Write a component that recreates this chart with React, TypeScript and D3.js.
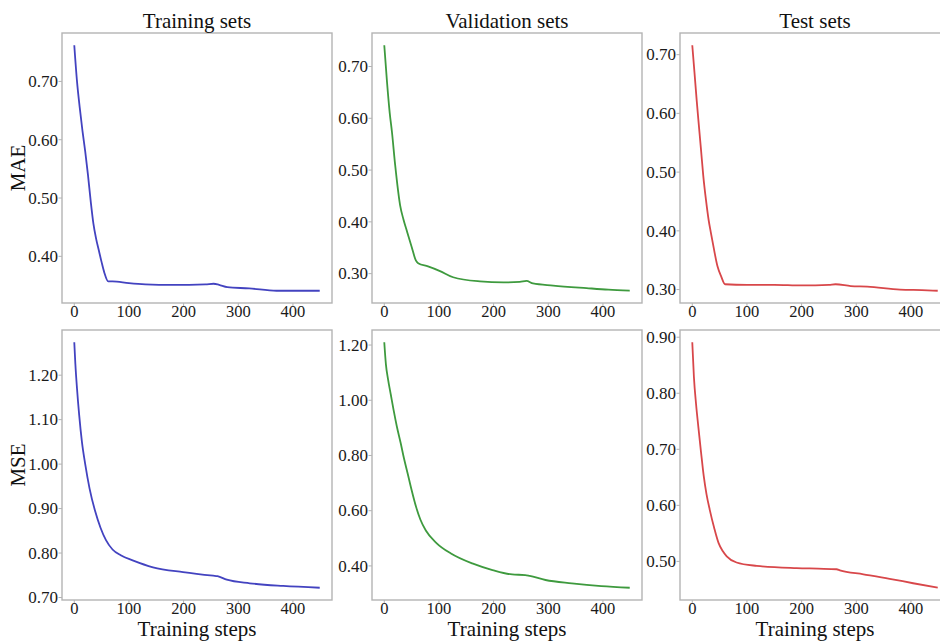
import React from 'react';
import * as d3 from 'd3';

const maeTrainSteps = [0, 5, 10, 15, 20, 25, 30, 35, 40, 45, 50, 55, 62, 70, 100, 130, 180, 240, 255, 265, 280, 320, 370, 410, 449];
const maeTrain = [0.762, 0.70, 0.655, 0.615, 0.58, 0.54, 0.495, 0.456, 0.43, 0.41, 0.39, 0.372, 0.357, 0.357, 0.354, 0.352, 0.351, 0.352, 0.353, 0.351, 0.347, 0.345, 0.341, 0.341, 0.341];

const maeValSteps = [0, 5, 10, 14, 20, 29, 35, 42, 50, 58, 62, 80, 102, 126, 175, 218, 248, 260, 272, 309, 370, 410, 449];
const maeVal = [0.741, 0.67, 0.61, 0.574, 0.509, 0.432, 0.405, 0.38, 0.352, 0.325, 0.32, 0.314, 0.305, 0.293, 0.285, 0.283, 0.284, 0.286, 0.281, 0.277, 0.272, 0.269, 0.267];

const maeTestSteps = [0, 4, 8, 12, 16, 20, 25, 30, 34, 40, 46, 53, 60, 100, 150, 200, 250, 262, 290, 320, 380, 420, 449];
const maeTest = [0.716, 0.67, 0.623, 0.58, 0.538, 0.495, 0.453, 0.418, 0.397, 0.367, 0.34, 0.322, 0.309, 0.308, 0.308, 0.307, 0.308, 0.309, 0.306, 0.305, 0.300, 0.299, 0.298];

const mseTrainSteps = [0, 2, 5, 9, 14, 20, 28, 38, 48, 58, 70, 85, 108, 144, 199, 254, 262, 279, 321, 382, 449];
const mseTrain = [1.274, 1.225, 1.17, 1.11, 1.05, 1.0, 0.945, 0.895, 0.857, 0.829, 0.808, 0.795, 0.783, 0.768, 0.757, 0.749, 0.748, 0.740, 0.732, 0.726, 0.722];

const mseValSteps = [0, 3, 7, 12, 17, 23, 30, 36, 43, 50, 58, 66, 76, 96, 122, 161, 198, 234, 258, 266, 295, 343, 397, 449];
const mseVal = [1.210, 1.13, 1.075, 1.02, 0.965, 0.905, 0.845, 0.79, 0.733, 0.675, 0.615, 0.568, 0.528, 0.482, 0.445, 0.409, 0.385, 0.369, 0.367, 0.364, 0.349, 0.337, 0.327, 0.321];

const mseTestSteps = [0, 3, 7, 11, 16, 21, 26, 32, 40, 48, 56, 63, 81, 118, 191, 230, 264, 270, 313, 361, 404, 449];
const mseTest = [0.891, 0.829, 0.78, 0.741, 0.695, 0.652, 0.62, 0.592, 0.56, 0.533, 0.518, 0.509, 0.498, 0.492, 0.488, 0.487, 0.486, 0.484, 0.477, 0.469, 0.461, 0.453];

const xTicks = [0, 100, 200, 300, 400];
const maeTrainTicks = [0.4, 0.5, 0.6, 0.7];
const maeValTicks = [0.3, 0.4, 0.5, 0.6, 0.7];
const maeTestTicks = [0.3, 0.4, 0.5, 0.6, 0.7];
const mseTrainTicks = [0.7, 0.8, 0.9, 1.0, 1.1, 1.2];
const mseValTicks = [0.4, 0.6, 0.8, 1.0, 1.2];
const mseTestTicks = [0.5, 0.6, 0.7, 0.8, 0.9];

const columnTitles = ['Training sets', 'Validation sets', 'Test sets'];
const rowLabels = ['MAE', 'MSE'];
const xLabel = 'Training steps';

const BLUE = '#4343c0';
const GREEN = '#3e9a3e';
const RED = '#d8474a';

const panelW = 270;
const panelH = 270;
const colX = [62, 372, 680];
const rowY = [33, 330];
const font = '"Liberation Serif", "Times New Roman", serif';

const padded = (ext: [number, number]): [number, number] => {
    const m = (ext[1] - ext[0]) * 0.05;
    return [ext[0] - m, ext[1] + m];
};

type PanelProps = {
    x: number;
    y: number;
    steps: number[];
    values: number[];
    yTicks: number[];
    color: string;
};

const Panel = ({ x, y, steps, values, yTicks, color }: PanelProps) => {
    const xScale = d3.scaleLinear().domain(padded([0, 449])).range([0, panelW]);
    const yScale = d3
        .scaleLinear()
        .domain(padded(d3.extent(values) as [number, number]))
        .range([panelH, 0]);

    const pts = steps.map((s, i) => [s, values[i]] as [number, number]);
    const line = d3
        .line<[number, number]>()
        .x(d => xScale(d[0]))
        .y(d => yScale(d[1]))
        .curve(d3.curveMonotoneX);

    return (
        <g transform={`translate(${x},${y})`}>
            <rect x={0} y={0} width={panelW} height={panelH} fill="white" stroke="#b4b4b4" strokeWidth={1.4} />
            <path d={line(pts) || ''} fill="none" stroke={color} strokeWidth={1.8} />
            {yTicks.map(t => (
                <g key={t} transform={`translate(0,${yScale(t)})`}>
                    <line x1={-3.5} x2={0} stroke="#b4b4b4" strokeWidth={1} />
                    <text x={-4} dy="0.34em" textAnchor="end" fontSize={17} fontFamily={font} fill="#1a1a1a">
                        {t.toFixed(2)}
                    </text>
                </g>
            ))}
            {xTicks.map(t => (
                <g key={t} transform={`translate(${xScale(t)},${panelH})`}>
                    <line y1={0} y2={3.5} stroke="#b4b4b4" strokeWidth={1} />
                    <text y={14} textAnchor="middle" fontSize={16.5} fontFamily={font} fill="#1a1a1a">
                        {t}
                    </text>
                </g>
            ))}
        </g>
    );
};

const App = () => {
    const rows = [
        [
            { steps: maeTrainSteps, values: maeTrain, ticks: maeTrainTicks, color: BLUE },
            { steps: maeValSteps, values: maeVal, ticks: maeValTicks, color: GREEN },
            { steps: maeTestSteps, values: maeTest, ticks: maeTestTicks, color: RED },
        ],
        [
            { steps: mseTrainSteps, values: mseTrain, ticks: mseTrainTicks, color: BLUE },
            { steps: mseValSteps, values: mseVal, ticks: mseValTicks, color: GREEN },
            { steps: mseTestSteps, values: mseTest, ticks: mseTestTicks, color: RED },
        ],
    ];

    return (
        <svg
            width={940}
            height={641}
            style={{ position: 'absolute', left: 0, top: 0, background: 'white' }}
        >
            {rows.map((row, r) =>
                row.map((p, c) => (
                    <Panel
                        key={`${r}-${c}`}
                        x={colX[c]}
                        y={rowY[r]}
                        steps={p.steps}
                        values={p.values}
                        yTicks={p.ticks}
                        color={p.color}
                    />
                ))
            )}
            {columnTitles.map((t, c) => (
                <text key={t} x={colX[c] + panelW / 2} y={28} textAnchor="middle" fontSize={21} fontFamily={font} fill="#111">
                    {t}
                </text>
            ))}
            {columnTitles.map((t, c) => (
                <text key={'xl' + c} x={colX[c] + panelW / 2} y={635.5} textAnchor="middle" fontSize={21} fontFamily={font} fill="#111">
                    {xLabel}
                </text>
            ))}
            {rowLabels.map((t, r) => (
                <text
                    key={t}
                    transform={`translate(25,${rowY[r] + panelH / 2}) rotate(-90)`}
                    textAnchor="middle"
                    fontSize={21}
                    fontFamily={font}
                    fill="#111"
                >
                    {t}
                </text>
            ))}
        </svg>
    );
};

export default App;
